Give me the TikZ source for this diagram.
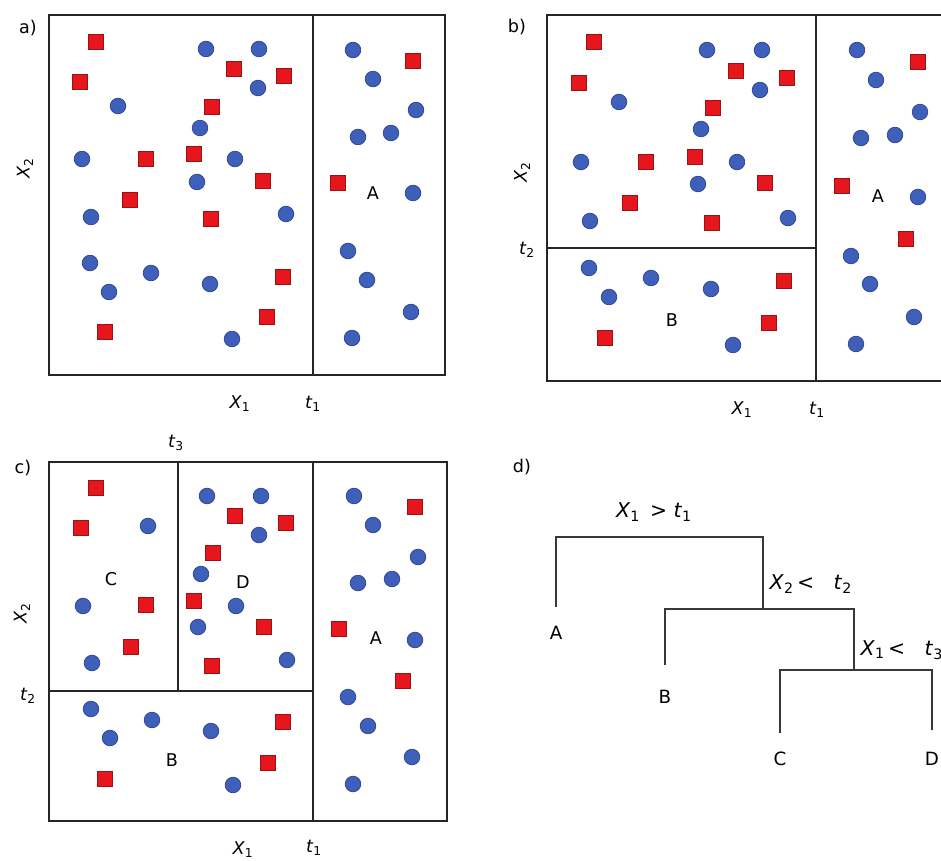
\documentclass[tikz,border=0pt]{standalone}
\usepackage{fontspec}
\setmainfont{DejaVu Sans}
\newcommand{\vsub}[2]{\textit{#1}\textsubscript{#2}}
\definecolor{splitRedFill}{RGB}{230,22,28}
\definecolor{splitRedLine}{RGB}{150,20,20}
\definecolor{splitBlueFill}{RGB}{62,96,186}
\definecolor{splitBlueLine}{RGB}{44,66,140}
\tikzset{splitRed/.style={draw=splitRedLine,fill=splitRedFill,rectangle,minimum size=0.37cm,inner sep=0pt,line width=0.5pt},
 splitBlue/.style={draw=splitBlueLine,fill=splitBlueFill,circle,minimum size=0.39cm,inner sep=0pt,line width=0.5pt},
 splitFrame/.style={draw=black!85,line width=1.3pt},
 splitLabel/.style={font=\fontsize{12.5}{15}\selectfont,inner sep=1pt},
 treeRule/.style={font=\fontsize{14.5}{17}\selectfont,inner sep=1pt},
 treeLine/.style={draw=black!78,line width=2pt},
 treeLeaf/.style={font=\fontsize{13}{15}\selectfont,anchor=north,inner xsep=0pt,inner ysep=0.47cm}}

\begin{document}
\begin{tikzpicture}[x=0.025cm,y=-0.025cm]
\useasboundingbox (0,0) rectangle (941,861);
\clip (0,0) rectangle (941,861);
% a)
\coordinate (aNW) at (49,15); \coordinate (aSE) at (445,375);
\coordinate (aT1top) at (313,15); \coordinate (aT1bot) at (313,375);
\draw[splitFrame] (aNW) rectangle (aSE);
\draw[splitFrame] (aT1top)--(aT1bot);
\foreach \px/\py [count=\i] in {96/42,80/82,234/69,284/76,212/107,146/159,194/154,263/181,130/200,211/219,283/277,267/317,105/332,338/183,413/61}{
\node[splitRed] (aR\i) at (\px,\py) {};}
\foreach \px/\py [count=\i] in {206/49,259/49,258/88,118/106,200/128,82/159,235/159,197/182,286/214,91/217,90/263,151/273,109/292,210/284,232/339,353/50,373/79,416/110,358/137,391/133,413/193,348/251,367/280,411/312,352/338}{
\node[splitBlue] (aB\i) at (\px,\py) {};}
\node[splitLabel] (aA) at (373,193) {A};
\node[splitLabel] (aTag) at (28,28) {a)};
\node[splitLabel,rotate=90] (aX2) at (25,168) {\vsub{X}{2}};
\node[splitLabel] (aX1) at (240,404) {\vsub{X}{1}};
\node[splitLabel] (aT1) at (313,404) {\vsub{t}{1}};
% b)
\coordinate (bNW) at (547,15); \coordinate (bSE) at (1000,381);
\coordinate (bT1top) at (816,15); \coordinate (bT1bot) at (816,381);
\coordinate (bT2left) at (547,248); \coordinate (bT2right) at (816,248);
\draw[splitFrame] (bNW) rectangle (bSE);
\draw[splitFrame] (bT1top)--(bT1bot);
\draw[splitFrame] (bT2left)--(bT2right);
\foreach \px/\py [count=\i] in {594/42,579/83,736/71,787/78,713/108,646/162,695/157,765/183,630/203,712/223,842/186,918/62,906/239,784/281,769/323,605/338}{
\node[splitRed] (bR\i) at (\px,\py) {};}
\foreach \px/\py [count=\i] in {707/50,762/50,760/90,619/102,701/129,581/162,737/162,698/184,788/218,590/221,589/268,651/278,609/297,711/289,733/345,857/50,876/80,920/112,861/138,895/135,918/197,851/256,870/284,914/317,856/344}{
\node[splitBlue] (bB\i) at (\px,\py) {};}
\node[splitLabel] (bA) at (878,196) {A};
\node[splitLabel] (bB) at (672,320) {B};
\node[splitLabel] (bTag) at (517,27) {b)};
\node[splitLabel,rotate=90] (bX2) at (522,172) {\vsub{X}{2}};
\node[splitLabel] (bT2) at (527,250) {\vsub{t}{2}};
\node[splitLabel] (bX1) at (742,410) {\vsub{X}{1}};
\node[splitLabel] (bT1) at (817,410) {\vsub{t}{1}};
% c)
\coordinate (cNW) at (49,462); \coordinate (cSE) at (447,821);
\coordinate (cT1top) at (313,462); \coordinate (cT1bot) at (313,821);
\coordinate (cT2left) at (49,691); \coordinate (cT2right) at (313,691);
\coordinate (cT3top) at (178,462); \coordinate (cT3bot) at (178,691);
\draw[splitFrame] (cNW) rectangle (cSE);
\draw[splitFrame] (cT1top)--(cT1bot);
\draw[splitFrame] (cT2left)--(cT2right);
\draw[splitFrame] (cT3top)--(cT3bot);
\foreach \px/\py [count=\i] in {96/488,81/528,146/605,131/647,235/516,286/523,213/553,194/601,264/627,212/666,415/507,339/629,403/681,283/722,268/763,105/779}{
\node[splitRed] (cR\i) at (\px,\py) {};}
\foreach \px/\py [count=\i] in {148/526,83/606,92/663,207/496,261/496,259/535,201/574,236/606,198/627,287/660,91/709,152/720,110/738,211/731,233/785,354/496,373/525,418/557,358/583,392/579,415/640,348/697,368/726,412/757,353/784}{
\node[splitBlue] (cB\i) at (\px,\py) {};}
\node[splitLabel] (cC) at (111,579) {C};
\node[splitLabel] (cD) at (243,582) {D};
\node[splitLabel] (cA) at (376,638) {A};
\node[splitLabel] (cB) at (172,760) {B};
\node[splitLabel] (cTag) at (23,468) {c)};
\node[splitLabel] (cT3) at (176,443) {\vsub{t}{3}};
\node[splitLabel,rotate=90] (cX2) at (22,613) {\vsub{X}{2}};
\node[splitLabel] (cT2) at (28,696) {\vsub{t}{2}};
\node[splitLabel] (cX1) at (243,850) {\vsub{X}{1}};
\node[splitLabel] (cT1) at (314,848) {\vsub{t}{1}};
% d)
\node[splitLabel] (dTag) at (522,467) {d)};
\coordinate (r0) at (763,537);
\coordinate (k1) at (763,609);
\coordinate (k1r) at (854,609);
\coordinate (k2) at (854,670);
\coordinate (k2r) at (932,670);
\node[treeLeaf] (lA) at (556,607) {A};
\node[treeLeaf,inner ysep=0.62cm] (lB) at (665,665) {B};
\node[treeLeaf] (lC) at (780,733) {C};
\node[treeLeaf,inner ysep=0.55cm] (lD) at (932,730) {D};
\draw[treeLine] (lA.north) |- (r0) -- (k1);
\draw[treeLine] (lB.north) |- (k1r) -- (k2);
\draw[treeLine] (lC.north) |- (k2r) -- (lD.north);
\node[treeRule] (q1) at (654,512) {\vsub{X}{1}\,\ >\ \vsub{t}{1}};
\node[treeRule,anchor=west] (q2) at (768,584) {\vsub{X}{2}\,<\ \ \ \vsub{t}{2}};
\node[treeRule,anchor=west] (q3) at (859,650) {\vsub{X}{1}\,<\ \ \ \vsub{t}{3}};
\end{tikzpicture}
\end{document}
